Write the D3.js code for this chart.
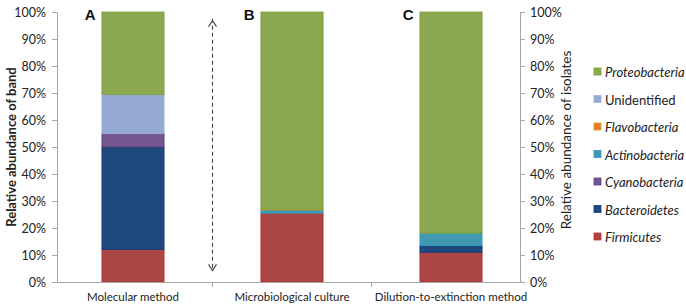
<!DOCTYPE html>
<html>
<head>
<meta charset="utf-8">
<script src="https://cdn.jsdelivr.net/npm/d3@7"></script>
<style>
  body { margin: 0; background: #fff; }
  text { font-family: Lato, "Open Sans", sans-serif; }
</style>
</head>
<body>
<div id="chart"></div>
<script>
// Data (percent of total)
const categories = ["Molecular method", "Microbiological culture", "Dilution-to-extinction method"]
const panelLabels = ["A", "B", "C"]
const groups = ["Firmicutes", "Bacteroidetes", "Cyanobacteria", "Actinobacteria", "Flavobacteria", "Unidentified", "Proteobacteria"]
const firmicutes     = [12.0, 25.5, 11.0]
const bacteroidetes  = [38.0,  0.0,  2.5]
const cyanobacteria  = [ 5.0,  0.0,  0.0]
const actinobacteria = [ 0.0,  1.2,  4.6]
const flavobacteria  = [ 0.0,  0.3,  0.0]
const unidentified   = [14.5,  0.0,  0.0]
const proteobacteria = [30.5, 73.0, 81.9]
const yTicks = [0, 10, 20, 30, 40, 50, 60, 70, 80, 90, 100]

const fills   = ["#aa4644", "#1f497d", "#74578f", "#4298b0", "#e57a2c", "#95a9d2", "#8ca850"]
const strokes = ["#c2302d", "#0e3b78", "#5f3f80", "#2f9cc4", "#e0a020", "#9ab3e6", "#77a032"]

const WIDTH = 686, HEIGHT = 308
const AXIS = {LEFT: 57, RIGHT: 520, TOP: 12, BOTTOM: 282}

const series = [firmicutes, bacteroidetes, cyanobacteria, actinobacteria, flavobacteria, unidentified, proteobacteria]
const rows = categories.map((c, i) => {
    const r = {cat: c}
    groups.forEach((g, j) => r[g] = series[j][i])
    return r
})
const stacked = d3.stack().keys(groups)(rows)

const svg = d3.select("#chart").append("svg")
    .attr("width", WIDTH)
    .attr("height", HEIGHT)

const x = d3.scaleBand()
    .domain(categories)
    .range([53.5, 530.5])
    .paddingInner(0.604)
    .paddingOuter(0.302)

const y = d3.scaleLinear()
    .domain([0, 100])
    .range([AXIS.BOTTOM, AXIS.TOP])

// Bars
svg.append("g").selectAll("g")
    .data(stacked)
    .enter().append("g")
    .attr("fill", (d, i) => fills[i])
    .attr("stroke", (d, i) => strokes[i])
    .attr("stroke-width", 0.8)
    .selectAll("rect")
    .data(d => d.filter(p => p[1] - p[0] > 0))
    .enter().append("rect")
    .attr("x", d => x(d.data.cat) + 0.4)
    .attr("width", x.bandwidth() - 0.8)
    .attr("y", d => y(d[1]))
    .attr("height", d => y(d[0]) - y(d[1]))

// Left axis
const leftAxis = svg.append("g")
    .attr("transform", `translate(${AXIS.LEFT},0)`)
    .call(d3.axisLeft(y).tickValues(yTicks).tickFormat(d => d + "%").tickSize(5).tickSizeOuter(0))
// Right axis
const rightAxis = svg.append("g")
    .attr("transform", `translate(${AXIS.RIGHT},0)`)
    .call(d3.axisRight(y).tickValues(yTicks).tickFormat(d => d + "%").tickSize(5).tickSizeOuter(0))

;[leftAxis, rightAxis].forEach(a => {
    a.select(".domain").attr("stroke", "#a6a6a6")
    a.selectAll(".tick line").attr("stroke", "#a6a6a6")
    a.selectAll(".tick text")
        .attr("fill", "#222")
        .style("font-family", "Lato, sans-serif")
        .style("font-size", "12.5px")
})
leftAxis.selectAll(".tick text").attr("x", -11)
rightAxis.selectAll(".tick text").attr("x", 10)

// Bottom axis line with ticks between categories
svg.append("line")
    .attr("x1", AXIS.LEFT).attr("x2", AXIS.RIGHT)
    .attr("y1", AXIS.BOTTOM + 0.5).attr("y2", AXIS.BOTTOM + 0.5)
    .attr("stroke", "#a6a6a6")
const bounds = categories.slice(1).map(c => x(c) - x.step() * x.paddingInner() / 2)
svg.selectAll(".xtick")
    .data(bounds)
    .enter().append("line")
    .attr("x1", d => d).attr("x2", d => d)
    .attr("y1", AXIS.BOTTOM).attr("y2", AXIS.BOTTOM + 5)
    .attr("stroke", "#a6a6a6")

// Category labels
svg.selectAll(".xlabel")
    .data(categories)
    .enter().append("text")
    .attr("x", d => x(d) + x.bandwidth() / 2)
    .attr("y", 301)
    .attr("text-anchor", "middle")
    .attr("fill", "#222")
    .style("font-size", "11.5px")
    .text(d => d)

// Panel letters
svg.selectAll(".panel")
    .data(categories)
    .enter().append("text")
    .attr("x", d => x(d) - 6)
    .attr("y", 20)
    .attr("text-anchor", "end")
    .style("font-family", "'Liberation Sans', Arial, sans-serif")
    .style("font-weight", "bold")
    .style("font-size", "15px")
    .attr("fill", "#111")
    .text((d, i) => panelLabels[i])

// Axis titles
svg.append("text")
    .attr("transform", `translate(16,${(AXIS.TOP + AXIS.BOTTOM) / 2}) rotate(-90)`)
    .attr("text-anchor", "middle")
    .style("font-size", "13px")
    .style("font-weight", "bold")
    .attr("fill", "#222")
    .text("Relative abundance of band")
svg.append("text")
    .attr("transform", `translate(571,${(AXIS.TOP + AXIS.BOTTOM) / 2 - 7}) rotate(-90)`)
    .attr("text-anchor", "middle")
    .style("font-size", "13.5px")
    .attr("fill", "#222")
    .text("Relative abundance of isolates")

// Dashed double arrow between A and B
const arrowX = bounds[0]
const arrow = svg.append("g").attr("stroke", "#444").attr("fill", "none").attr("stroke-width", 1.1)
arrow.append("line")
    .attr("x1", arrowX).attr("x2", arrowX)
    .attr("y1", y(97.5)).attr("y2", y(4))
    .attr("stroke-dasharray", "4,3")
arrow.append("path")
    .attr("d", `M${arrowX - 4},${y(96.8) + 6} L${arrowX},${y(96.8)} L${arrowX + 4},${y(96.8) + 6}`)
arrow.append("path")
    .attr("d", `M${arrowX - 4},${y(4.3) - 6} L${arrowX},${y(4.3)} L${arrowX + 4},${y(4.3) - 6}`)

// Legend (top to bottom reverses the stack)
const legendItems = groups.map((g, i) => ({name: g, i: i})).reverse()
const legend = svg.append("g").attr("transform", "translate(594,72)")
const li = legend.selectAll("g")
    .data(legendItems)
    .enter().append("g")
    .attr("transform", (d, k) => `translate(0,${k * 27.5})`)
li.append("rect")
    .attr("x", 0).attr("y", -4)
    .attr("width", 7).attr("height", 7)
    .attr("fill", d => fills[d.i])
    .attr("stroke", d => strokes[d.i])
    .attr("stroke-width", 0.8)
li.append("text")
    .attr("x", 11)
    .attr("y", 5)
    .style("font-size", "13px")
    .style("font-style", d => d.name === "Unidentified" ? "normal" : "italic")
    .attr("fill", "#222")
    .text(d => d.name)
</script>
</body>
</html>
